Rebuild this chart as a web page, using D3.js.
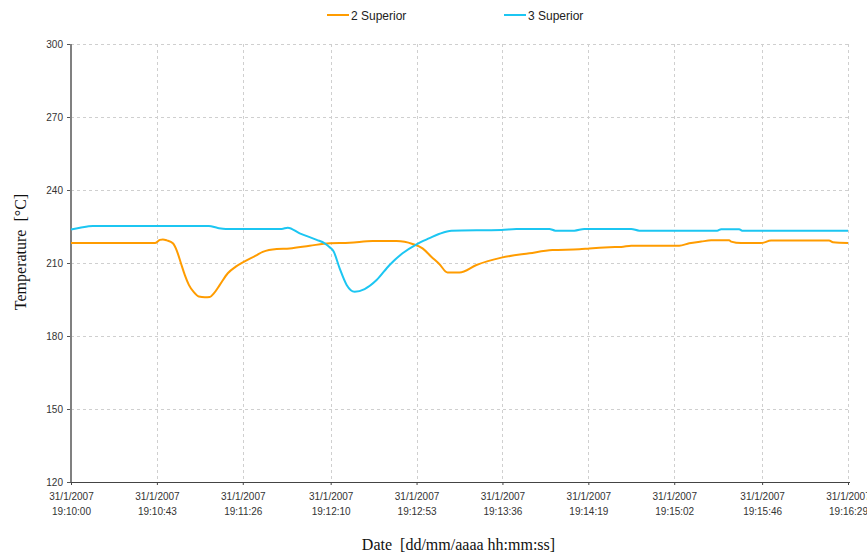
<!DOCTYPE html>
<html>
<head>
<meta charset="utf-8">
<script src="https://cdn.jsdelivr.net/npm/d3@7"></script>
<style>
  body { margin: 0; background: #fff; }
  svg { display: block; }
  .tick text { font-family: "Liberation Sans", Arial, sans-serif; font-size: 10px; fill: #333; }
</style>
</head>
<body>
<div id="chart"></div>
<script>
// tick labels as printed on the chart
var dateLabel = "31/1/2007";
var timeTicks = ["19:10:00", "19:10:43", "19:11:26", "19:12:10", "19:12:53",
                 "19:13:36", "19:14:19", "19:15:02", "19:15:46", "19:16:29"];
var tempTicks = [120, 150, 180, 210, 240, 270, 300];

var seriesNames = ["2 Superior", "3 Superior"];
var seriesColors = ["#ff9c00", "#1cc6f2"];

// [seconds after 19:10:00, temperature °C]
var sup2 = [
  [0, 218.2], [42, 218.2], [44.5, 219.5], [46, 219.7], [48, 219.3], [51, 218.1],
  [53, 215], [55, 210], [57, 205], [59, 201], [61.5, 198], [64, 196.2], [67, 195.9],
  [69.5, 196], [71.5, 197.5], [74.5, 201], [78.5, 205.8], [82.5, 208.5], [86.5, 210.5],
  [92.5, 213], [96, 214.6], [103, 215.8], [109.5, 216], [119.5, 217.1], [129.5, 218.1],
  [139.5, 218.3], [151, 219], [163, 219], [167, 218.7], [171, 217.8], [176, 216],
  [180.5, 212.5], [184.5, 209.5], [188.5, 206.1], [194.5, 206.1], [203, 209.2],
  [215.5, 212.2], [229.5, 214], [241, 215.3], [254.5, 215.6], [259.5, 216],
  [269.5, 216.5], [275.5, 216.6], [280.5, 217.1], [304.5, 217.1], [309.5, 218.1],
  [315.5, 218.8], [320.5, 219.3], [329.5, 219.3], [330.5, 218.8], [335.5, 218.2],
  [345.5, 218.2], [350.5, 219.2], [379.5, 219.2], [381.5, 218.5], [389, 218.2]
];

var sup3 = [
  [0, 223.8], [4.5, 224.5], [11, 225.2], [69, 225.2], [73.5, 224.4], [77.5, 224],
  [105.5, 224], [108.5, 224.5], [114.5, 222.2], [123, 219.5], [127, 218.1],
  [129.5, 216.5], [131.5, 214.7], [134.5, 207.8], [138, 201], [142, 198.2],
  [147, 199.3], [153, 203], [159.5, 209.2], [166, 214], [173, 217.7], [179.5, 220.2],
  [184.5, 222], [190.5, 223.3], [215.5, 223.6], [223, 224], [239.5, 224],
  [242.5, 223.3], [252, 223.3], [257, 224], [280.5, 224], [284.5, 223.3],
  [323.5, 223.3], [325.5, 223.9], [334.5, 223.9], [336, 223.3], [389, 223.3]
];

var width = 867, height = 554;
var margin = {top: 44, right: 19, bottom: 72, left: 71};
var innerW = width - margin.left - margin.right,
    innerH = height - margin.top - margin.bottom;

var svg = d3.select("#chart").append("svg")
  .attr("width", width)
  .attr("height", height);

var parseTime = d3.timeParse("%d/%m/%Y %H:%M:%S");
var t0 = parseTime(dateLabel + " " + timeTicks[0]);
var toDate = function(s) { return new Date(t0.getTime() + s * 1000); };

var x = d3.scaleTime()
  .domain([t0, parseTime(dateLabel + " " + timeTicks[timeTicks.length - 1])])
  .range([0, innerW]);

var y = d3.scaleLinear()
  .domain([120, 300])
  .range([innerH, 0]);

var g = svg.append("g")
  .attr("transform", "translate(" + margin.left + "," + margin.top + ")");

var tickDates = timeTicks.map(function(t) { return parseTime(dateLabel + " " + t); });

// grid
g.append("g").selectAll("line.hgrid")
  .data(tempTicks.filter(function(d) { return d > 120; }))
  .enter().append("line")
  .attr("x1", 0).attr("x2", innerW + 2)
  .attr("y1", function(d) { return Math.round(y(d)) + 0.5; })
  .attr("y2", function(d) { return Math.round(y(d)) + 0.5; })
  .style("stroke", "#cfcfcf")
  .style("stroke-dasharray", "3,3");

g.append("g").selectAll("line.vgrid")
  .data(tickDates.slice(1))
  .enter().append("line")
  .attr("x1", function(d) { return Math.round(x(d)) + 0.5; })
  .attr("x2", function(d) { return Math.round(x(d)) + 0.5; })
  .attr("y1", 0).attr("y2", innerH)
  .style("stroke", "#cfcfcf")
  .style("stroke-dasharray", "3,3");

// y axis
var yAxis = g.append("g")
  .call(d3.axisLeft(y).tickValues(tempTicks).tickSize(4).tickPadding(4));
yAxis.select(".domain").remove();
yAxis.selectAll(".tick line").style("stroke", "#555");
g.append("line")
  .attr("x1", 0).attr("x2", 0)
  .attr("y1", 0).attr("y2", innerH)
  .style("stroke", "#808080")
  .style("stroke-width", 2);

// x axis
var xAxis = g.append("g")
  .attr("transform", "translate(0," + innerH + ")")
  .call(d3.axisBottom(x).tickValues(tickDates).tickSize(3).tickFormat(""));
xAxis.select(".domain").remove();
xAxis.selectAll(".tick line").style("stroke", "#444");
g.append("line")
  .attr("x1", 0).attr("x2", innerW + 2)
  .attr("y1", innerH + 0.5).attr("y2", innerH + 0.5)
  .style("stroke", "#444");

var xl = xAxis.selectAll(".tick").append("text")
  .attr("text-anchor", "middle")
  .attr("fill", "#333");
xl.append("tspan").attr("x", 0).attr("y", 18).text(dateLabel);
xl.append("tspan").attr("x", 0).attr("y", 33)
  .text(function(d, i) { return timeTicks[i]; });

// lines
var line = d3.line()
  .x(function(d) { return x(toDate(d[0])); })
  .y(function(d) { return y(d[1]); })
  .curve(d3.curveMonotoneX);

[sup2, sup3].forEach(function(s, i) {
  g.append("path")
    .datum(s)
    .attr("d", line)
    .style("fill", "none")
    .style("stroke", seriesColors[i])
    .style("stroke-width", 2);
});

// legend
var legendX = [327, 504];
var legend = svg.selectAll("g.legend")
  .data(seriesNames)
  .enter().append("g")
  .attr("class", "legend")
  .attr("transform", function(d, i) { return "translate(" + legendX[i] + ",15)"; });
legend.append("line")
  .attr("x1", 0).attr("x2", 22)
  .style("stroke", function(d, i) { return seriesColors[i]; })
  .style("stroke-width", 2);
legend.append("text")
  .attr("x", 24).attr("y", 4.5)
  .style("font-family", "Liberation Sans, Arial, sans-serif")
  .style("font-size", "12px")
  .style("fill", "#222")
  .text(function(d) { return d; });

// axis titles
svg.append("text")
  .attr("x", margin.left + innerW / 2 - 1)
  .attr("y", 550)
  .attr("text-anchor", "middle")
  .style("font-family", "Liberation Serif, Times New Roman, serif")
  .style("font-size", "16px")
  .style("fill", "#111")
  .style("white-space", "pre")
  .text("Date  [dd/mm/aaaa hh:mm:ss]");

svg.append("text")
  .attr("transform", "translate(26,252) rotate(-90)")
  .attr("text-anchor", "middle")
  .style("font-family", "Liberation Serif, Times New Roman, serif")
  .style("font-size", "16px")
  .style("fill", "#111")
  .style("white-space", "pre")
  .text("Temperature  [°C]");
</script>
</body>
</html>
